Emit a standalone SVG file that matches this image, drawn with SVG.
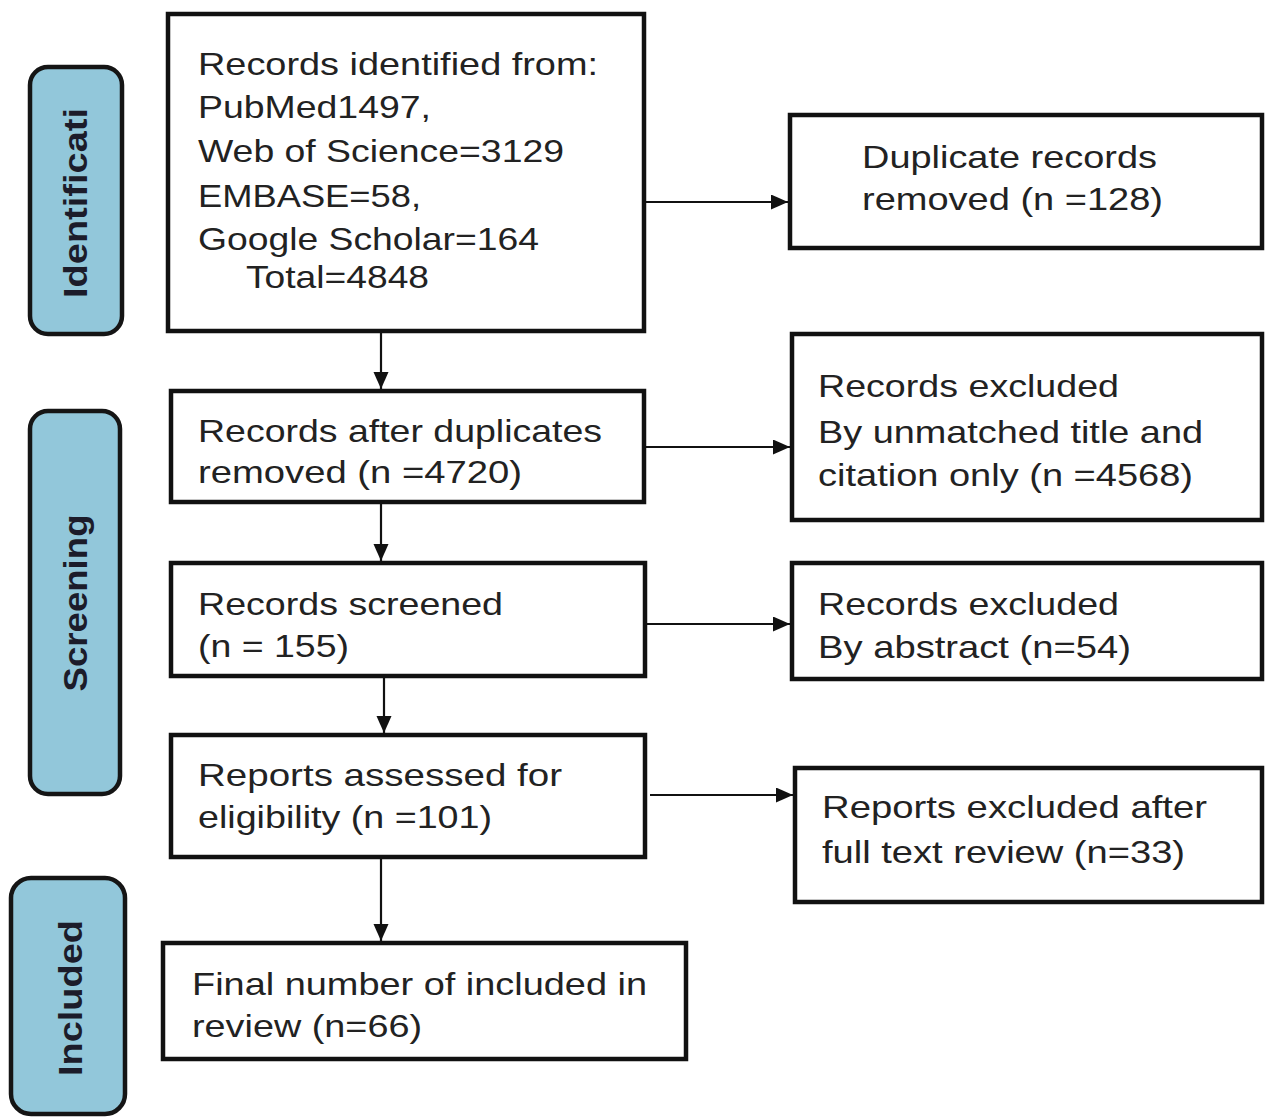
<svg xmlns="http://www.w3.org/2000/svg" width="1266" height="1117" viewBox="0 0 1266 1117">
<style>
.box{fill:#fff;stroke:#111;stroke-width:4.5}
.pill{fill:#92c7da;stroke:#151515;stroke-width:4.5}
.t{font-family:"Liberation Sans",Arial,sans-serif;font-size:32px;fill:#222}
.pt{font-family:"Liberation Sans",Arial,sans-serif;font-size:34px;font-weight:bold;fill:#1c1c2a;text-anchor:middle}
.c{stroke:#111;stroke-width:2.2;fill:none;marker-end:url(#ah)}
</style>
<defs>
<marker id="ah" markerUnits="userSpaceOnUse" markerWidth="18" markerHeight="16" refX="17" refY="7.5" orient="auto">
<path d="M0,0 L17,7.5 L0,15 z" fill="#111"/>
</marker>
</defs>
<rect width="1266" height="1117" fill="#fff"/>

<g id="stage-identification">
<rect class="pill" x="30" y="67" width="92" height="267" rx="18"/>
<text class="pt" transform="translate(87,203) rotate(-90)" textLength="190" lengthAdjust="spacingAndGlyphs">Identificati</text>
</g>
<g id="stage-screening">
<rect class="pill" x="30" y="411" width="90" height="383" rx="18"/>
<text class="pt" transform="translate(87,603) rotate(-90)" textLength="177" lengthAdjust="spacingAndGlyphs">Screening</text>
</g>
<g id="stage-included">
<rect class="pill" x="11" y="878" width="114" height="236" rx="20"/>
<text class="pt" transform="translate(82,998) rotate(-90)" textLength="156" lengthAdjust="spacingAndGlyphs">Included</text>
</g>

<g id="connectors">
<line class="c" x1="646" y1="202" x2="788" y2="202"/>
<line class="c" x1="646" y1="447" x2="790" y2="447"/>
<line class="c" x1="647" y1="624" x2="790" y2="624"/>
<line class="c" x1="650" y1="795" x2="793" y2="795"/>
<line class="c" x1="381" y1="333" x2="381" y2="389"/>
<line class="c" x1="381" y1="503" x2="381" y2="561"/>
<line class="c" x1="384" y1="678" x2="384" y2="733"/>
<line class="c" x1="381" y1="859" x2="381" y2="941"/>
</g>

<g id="records-identified">
<rect class="box" x="168" y="14" width="476" height="317"/>
<text class="t" x="198" y="75" textLength="400" lengthAdjust="spacingAndGlyphs">Records identified from:</text>
<text class="t" x="198" y="118" textLength="233" lengthAdjust="spacingAndGlyphs">PubMed1497,</text>
<text class="t" x="198" y="162" textLength="366" lengthAdjust="spacingAndGlyphs">Web of Science=3129</text>
<text class="t" x="198" y="207" textLength="223" lengthAdjust="spacingAndGlyphs">EMBASE=58,</text>
<text class="t" x="198" y="250" textLength="341" lengthAdjust="spacingAndGlyphs">Google Scholar=164</text>
<text class="t" x="246" y="288" textLength="183" lengthAdjust="spacingAndGlyphs">Total=4848</text>
</g>

<g id="duplicates-removed">
<rect class="box" x="790" y="115" width="472" height="133"/>
<text class="t" x="862" y="168" textLength="295" lengthAdjust="spacingAndGlyphs">Duplicate records</text>
<text class="t" x="862" y="210" textLength="301" lengthAdjust="spacingAndGlyphs">removed (n =128)</text>
</g>

<g id="records-after-duplicates">
<rect class="box" x="171" y="391" width="473" height="111"/>
<text class="t" x="198" y="442" textLength="404" lengthAdjust="spacingAndGlyphs">Records after duplicates</text>
<text class="t" x="198" y="483" textLength="324" lengthAdjust="spacingAndGlyphs">removed (n =4720)</text>
</g>

<g id="excluded-title">
<rect class="box" x="792" y="334" width="470" height="186"/>
<text class="t" x="818" y="397" textLength="301" lengthAdjust="spacingAndGlyphs">Records excluded</text>
<text class="t" x="818" y="443" textLength="385" lengthAdjust="spacingAndGlyphs">By unmatched title and</text>
<text class="t" x="818" y="486" textLength="375" lengthAdjust="spacingAndGlyphs">citation only (n =4568)</text>
</g>

<g id="records-screened">
<rect class="box" x="171" y="563" width="474" height="113"/>
<text class="t" x="198" y="615" textLength="305" lengthAdjust="spacingAndGlyphs">Records screened</text>
<text class="t" x="198" y="657" textLength="151" lengthAdjust="spacingAndGlyphs">(n = 155)</text>
</g>

<g id="excluded-abstract">
<rect class="box" x="792" y="563" width="470" height="116"/>
<text class="t" x="818" y="615" textLength="301" lengthAdjust="spacingAndGlyphs">Records excluded</text>
<text class="t" x="818" y="658" textLength="313" lengthAdjust="spacingAndGlyphs">By abstract (n=54)</text>
</g>

<g id="reports-assessed">
<rect class="box" x="171" y="735" width="474" height="122"/>
<text class="t" x="198" y="786" textLength="364" lengthAdjust="spacingAndGlyphs">Reports assessed for</text>
<text class="t" x="198" y="828" textLength="294" lengthAdjust="spacingAndGlyphs">eligibility (n =101)</text>
</g>

<g id="excluded-fulltext">
<rect class="box" x="795" y="768" width="467" height="134"/>
<text class="t" x="822" y="818" textLength="385" lengthAdjust="spacingAndGlyphs">Reports excluded after</text>
<text class="t" x="822" y="863" textLength="363" lengthAdjust="spacingAndGlyphs">full text review (n=33)</text>
</g>

<g id="final-included">
<rect class="box" x="163" y="943" width="523" height="116"/>
<text class="t" x="192" y="995" textLength="455" lengthAdjust="spacingAndGlyphs">Final number of included in</text>
<text class="t" x="192" y="1037" textLength="230" lengthAdjust="spacingAndGlyphs">review (n=66)</text>
</g>
</svg>
